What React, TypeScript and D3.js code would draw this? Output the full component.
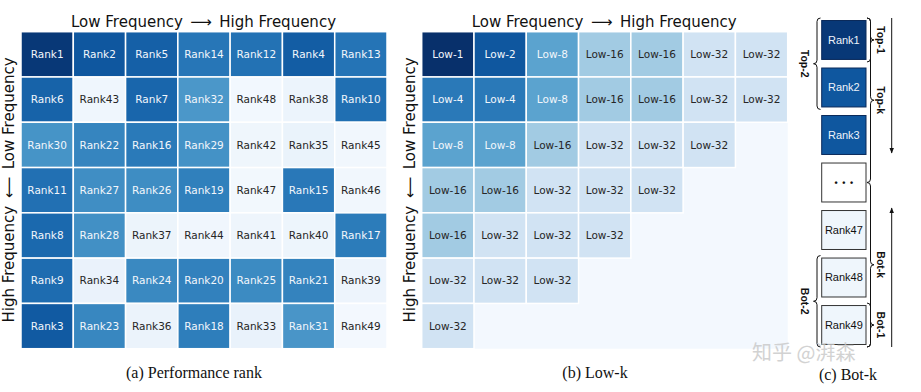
import React from 'react'
import * as d3 from 'd3'

// (a) performance rank of each frequency block, row = vertical freq, col = horizontal freq
const rankGrid: number[][] = [
  [1, 2, 5, 14, 12, 4, 13],
  [6, 43, 7, 32, 48, 38, 10],
  [30, 22, 16, 29, 42, 35, 45],
  [11, 27, 26, 19, 47, 15, 46],
  [8, 28, 37, 44, 41, 40, 17],
  [9, 34, 24, 20, 25, 21, 39],
  [3, 23, 36, 18, 33, 31, 49],
]

// (b) Low-k membership, null = not in any low-k set
const lowGrid: (number | null)[][] = [
  [1, 2, 8, 16, 16, 32, 32],
  [4, 4, 8, 16, 16, 32, 32],
  [8, 8, 16, 32, 32, 32, null],
  [16, 16, 32, 32, 32, null, null],
  [16, 32, 32, 32, null, null, null],
  [32, 32, 32, null, null, null, null],
  [32, null, null, null, null, null, null],
]

// (c) ordered boxes and brackets
const stackLabels = ['Rank1', 'Rank2', 'Rank3', '\u2022\u2002\u2022\u2002\u2022', 'Rank47', 'Rank48', 'Rank49']
const stackShade = [0.97, 0.85, 0.85, null, 0.04, 0.04, 0.04]
const brackets = [
  { label: 'Top-1', side: 'right', from: 0, to: 0, fromEdge: 'top', toEdge: 'bottom' },
  { label: 'Top-k', side: 'right', from: 0, to: 3, fromEdge: 'top', toEdge: 'mid' },
  { label: 'Bot-k', side: 'right', from: 3, to: 6, fromEdge: 'mid', toEdge: 'bottom' },
  { label: 'Bot-1', side: 'right', from: 6, to: 6, fromEdge: 'top', toEdge: 'bottom' },
  { label: 'Top-2', side: 'left', from: 0, to: 1, fromEdge: 'top', toEdge: 'bottom' },
  { label: 'Bot-2', side: 'left', from: 5, to: 6, fromEdge: 'top', toEdge: 'bottom' },
]

const xTitle = 'Low Frequency\u2002\u27F6\u2002High Frequency'
const yTitle = 'High Frequency\u2002\u27F5\u2002Low Frequency'

const idx = d3.range(7)
const cellFont = '"DejaVu Sans", sans-serif'
const serif = '"Liberation Serif", "Times New Roman", serif'
const arial = '"Liberation Sans", Arial, sans-serif'

const rankShade = d3.scaleLinear().domain([1, 2, 10, 32, 33, 49]).range([0.97, 0.85, 0.76, 0.6, 0.07, 0.02])
const lowShade = d3.scaleLinear().domain([0, 1, 2, 3, 4, 5]).range([1, 0.85, 0.72, 0.55, 0.36, 0.19])

function Heatmap({ x0, cells }: { x0: number; cells: { r: number; c: number; shade: number; label: string }[] }) {
  const x = d3.scaleBand<number>().domain(idx).range([x0, x0 + 366])
  const y = d3.scaleBand<number>().domain(idx).range([31.7, 348.7])
  const cx = (x0 + x0 + 366) / 2
  return (
    <g>
      <rect x={x0} y={31.7} width={366} height={317} fill={d3.interpolateBlues(0.02)} />
      {cells.map(d => (
        <g key={`${d.r}-${d.c}`}>
          <rect
            x={x(d.c)!}
            y={y(d.r)!}
            width={x.bandwidth()}
            height={y.bandwidth()}
            fill={d3.interpolateBlues(d.shade)}
            stroke="#fff"
            strokeWidth={1.5}
          />
          <text
            x={x(d.c)! + x.bandwidth() / 2}
            y={y(d.r)! + y.bandwidth() / 2}
            dy="0.35em"
            textAnchor="middle"
            fontFamily={cellFont}
            fontSize={10.5}
            fill={d.shade > 0.45 ? '#f2f6fb' : '#262626'}
          >
            {d.label}
          </text>
        </g>
      ))}
      <text x={cx - 0.5} y={27} textAnchor="middle" fontFamily={cellFont} fontSize={15} fill="#111">
        {xTitle}
      </text>
      <text
        transform={`translate(${x0 - 7},190) rotate(-90)`}
        textAnchor="middle"
        fontFamily={cellFont}
        fontSize={15}
        fill="#111"
      >
        {yTitle}
      </text>
    </g>
  )
}

function StackPanel() {
  const y = d3.scaleBand<number>().domain(idx).range([20.5, 344.5]).paddingInner(0.18)
  const bx = 821.7
  const bw = 44.3
  const yAt = (i: number, edge: string) => {
    const top = y(i)!
    if (edge === 'top') return top - 2.5
    if (edge === 'bottom') return top + y.bandwidth() + 2.5
    return top + y.bandwidth() / 2
  }
  const bracePath = (xl: number, y1: number, y2: number, dir: number) => {
    const m = (y1 + y2) / 2
    const h = 3.5
    return `M${xl - dir * h},${y1} Q${xl},${y1} ${xl},${y1 + h} V${m - h} Q${xl},${m} ${xl + dir * h},${m} Q${xl},${m} ${xl},${m + h} V${y2 - h} Q${xl},${y2} ${xl - dir * h},${y2}`
  }
  const arrowX = 891.7
  return (
    <g>
      <defs>
        <marker id="ah" viewBox="0 0 10 10" refX="9" refY="5" markerWidth="6" markerHeight="6" orient="auto">
          <path d="M0,1 L10,5 L0,9 z" fill="#111" />
        </marker>
      </defs>
      {stackLabels.map((lab, i) => {
        const shade = stackShade[i]
        const dark = shade !== null && shade > 0.5
        return (
          <g key={lab}>
            <rect
              x={bx}
              y={y(i)!}
              width={bw}
              height={y.bandwidth()}
              fill={shade === null ? '#fff' : d3.interpolateBlues(shade)}
              stroke={dark ? '#0b2a5a' : '#333'}
              strokeWidth={1}
            />
            <text
              x={bx + bw / 2}
              y={y(i)! + y.bandwidth() / 2}
              dy="0.35em"
              textAnchor="middle"
              fontFamily={arial}
              fontSize={shade === null ? 9 : 11}
              fontWeight={shade === null ? 'bold' : 'normal'}
              fill={dark ? '#eef3fa' : '#111'}
            >
              {lab}
            </text>
          </g>
        )
      })}
      {brackets.map(b => {
        const y1 = yAt(b.from, b.fromEdge)
        const y2 = yAt(b.to, b.toEdge)
        const right = b.side === 'right'
        const xl = right ? 870.5 : 817
        const lx = right ? 881 : 805
        return (
          <g key={b.label}>
            <path d={bracePath(xl, y1, y2, right ? 1 : -1)} fill="none" stroke="#111" strokeWidth={1} />
            <text
              transform={`translate(${lx},${(y1 + y2) / 2}) rotate(90)`}
              textAnchor="middle"
              dy="0.35em"
              fontFamily={arial}
              fontSize={10.5}
              fontWeight="bold"
              fill="#111"
            >
              {b.label}
            </text>
          </g>
        )
      })}
      <line x1={arrowX} x2={arrowX} y1={yAt(0, 'top')} y2={yAt(2, 'bottom') - 4} stroke="#111" strokeWidth={1} markerEnd="url(#ah)" />
      <line x1={arrowX} x2={arrowX} y1={yAt(6, 'bottom')} y2={yAt(4, 'top')} stroke="#111" strokeWidth={1} markerEnd="url(#ah)" />
    </g>
  )
}

export default function App() {
  const rankCells = rankGrid.flatMap((row, r) =>
    row.map((v, c) => ({ r, c, shade: rankShade(v), label: `Rank${v}` }))
  )
  const lowCells = lowGrid.flatMap((row, r) =>
    row.flatMap((v, c) => (v === null ? [] : [{ r, c, shade: lowShade(Math.log2(v)), label: `Low-${v}` }]))
  )
  return (
    <svg width={921} height={392} style={{ position: 'absolute', left: 0, top: 0, background: '#fff' }}>
      <Heatmap x0={21} cells={rankCells} />
      <Heatmap x0={421.7} cells={lowCells} />
      <StackPanel />
      <text x={194} y={378} textAnchor="middle" fontFamily={serif} fontSize={16} fill="#111">(a) Performance rank</text>
      <text x={595} y={378} textAnchor="middle" fontFamily={serif} fontSize={16} fill="#111">(b) Low-k</text>
      <text x={848} y={380} textAnchor="middle" fontFamily={serif} fontSize={16} fill="#111">(c) Bot-k</text>
      <text x={752} y={360} fontFamily='"Noto Sans CJK SC", sans-serif' fontSize={20} fill="#c8c8c8" opacity={0.8}>
        知乎 @湃森
      </text>
    </svg>
  )
}
